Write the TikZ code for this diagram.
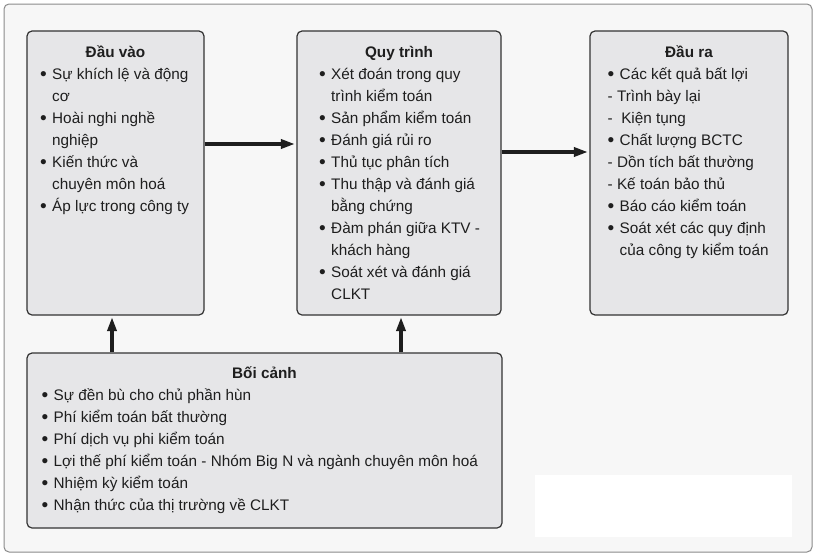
\documentclass[tikz,border=0pt]{standalone}
\usepackage{fontspec}
\setmainfont{Liberation Sans}
\usetikzlibrary{arrows.meta}

\definecolor{frameback}{HTML}{F7F7F7}
\definecolor{frameline}{HTML}{8A8A8A}
\definecolor{boxfill}{HTML}{E6E6E8}
\definecolor{boxline}{HTML}{333333}
\definecolor{ink}{HTML}{1E1E1E}

\newcommand{\bul}{\makebox[12pt][l]{\raisebox{-0.9pt}{\scalebox{1.25}{\textbullet}}}}
\newcommand{\ind}{\hspace*{12pt}}
\newcommand{\firstline}{\rule{0pt}{16pt}}

\begin{document}
\begin{tikzpicture}[x=1pt,y=-1pt,
  box/.style={draw=boxline, fill=boxfill, line width=1.2pt, rounded corners=5pt, inner sep=0pt},
  head/.style={anchor=base, font=\bfseries\fontsize{15.3}{22}\selectfont, text=ink, inner sep=0pt},
  list/.style={anchor=north west, align=left, font=\fontsize{15.3}{22}\selectfont, text=ink, inner sep=0pt},
  arr/.style={draw=ink, line width=3.4pt, shorten >=1.5pt, -{Triangle[length=14pt,width=9pt]}}]

\useasboundingbox (0,0) rectangle (816,557);

\draw[fill=frameback, draw=frameline, line width=1pt, rounded corners=5pt] (4,4) rectangle (812,552);
\fill[white] (535,475) rectangle (792,537);

\node[box, minimum width=177pt, minimum height=284pt] (inp) at (115.5,173) {};
\node[box, minimum width=204pt, minimum height=284pt] (proc) at (399,173) {};
\node[box, minimum width=198pt, minimum height=284pt] (out) at (689,173) {};
\node[box, minimum width=475pt, minimum height=175pt] (ctx) at (264.5,440.5) {};

\node[head] (inpT) at (115.5,57.5) {Đầu vào};
\node[head] (procT) at (399,57.5) {Quy trình};
\node[head] (outT) at (689,57.5) {Đầu ra};
\node[head] (ctxT) at (264.5,378.5) {Bối cảnh};

\node[list] (inpL) at (40,63) {\firstline\bul Sự khích lệ và động\\
  \ind cơ\\
  \bul Hoài nghi nghề\\
  \ind nghiệp\\
  \bul Kiến thức và\\
  \ind chuyên môn hoá\\
  \bul Áp lực trong công ty};

\node[list] (procL) at (319,63) {\firstline\bul Xét đoán trong quy\\
  \ind trình kiểm toán\\
  \bul Sản phẩm kiểm toán\\
  \bul Đánh giá rủi ro\\
  \bul Thủ tục phân tích\\
  \bul Thu thập và đánh giá\\
  \ind bằng chứng\\
  \bul Đàm phán giữa KTV -\\
  \ind khách hàng\\
  \bul Soát xét và đánh giá\\
  \ind CLKT};

\node[list] (outL) at (607.5,63) {\firstline\bul Các kết quả bất lợi\\
  - Trình bày lại\\
  -\ \ Kiện tụng\\
  \bul Chất lượng BCTC\\
  - Dồn tích bất thường\\
  - Kế toán bảo thủ\\
  \bul Báo cáo kiểm toán\\
  \bul Soát xét các quy định\\
  \ind của công ty kiểm toán};

\node[list] (ctxL) at (41.5,384) {\firstline\bul Sự đền bù cho chủ phần hùn\\
  \bul Phí kiểm toán bất thường\\
  \bul Phí dịch vụ phi kiểm toán\\
  \bul Lợi thế phí kiểm toán - Nhóm Big N và ngành chuyên môn hoá\\
  \bul Nhiệm kỳ kiểm toán\\
  \bul Nhận thức của thị trường về CLKT};

% connectors
\draw[arr] (inp.east |- 0,144) -- (proc.west |- 0,144);
\draw[arr] (proc.east |- 0,152) -- (out.west |- 0,152);
\draw[arr] (ctx.north -| 112,0) -- (inp.south -| 112,0);
\draw[arr] (ctx.north -| 401,0) -- (proc.south -| 401,0);

\end{tikzpicture}
\end{document}
